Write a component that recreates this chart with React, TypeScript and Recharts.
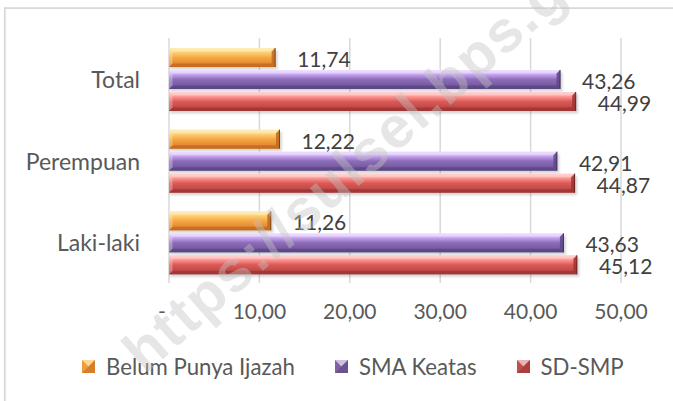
import React from 'react';
import { BarChart, Bar, XAxis, YAxis, CartesianGrid, Legend, LabelList } from 'recharts';

const categories = ['Total', 'Perempuan', 'Laki-laki'];
const belumPunyaIjazah = [11.74, 12.22, 11.26];
const smaKeatas = [43.26, 42.91, 43.63];
const sdSmp = [44.99, 44.87, 45.12];
const xTicks = [0, 10, 20, 30, 40, 50];
const xTickLabels = ['-', '10,00', '20,00', '30,00', '40,00', '50,00'];
const seriesNames = ['Belum Punya Ijazah', 'SMA Keatas', 'SD-SMP'];
const seriesKeys = ['belum', 'sma', 'sd'];

const data = categories.map((name, i) => ({
  name,
  belum: belumPunyaIjazah[i],
  sma: smaKeatas[i],
  sd: sdSmp[i],
}));

const FONT = 'Lato, "Noto Sans", sans-serif';

type Pal = { id: string; stops: [number, string][]; light: string; dark: string; side: string; edge: string; legend: string };
const palettes: Record<string, Pal> = {
  belum: {
    id: 'gOrange',
    stops: [[0, '#fde9a6'], [0.22, '#fcd27a'], [0.5, '#f7a743'], [1, '#d8782a']],
    light: '#fff1c2',
    dark: '#b8621c',
    side: '#c06a20',
    edge: '#7a4410',
    legend: '#f29b3c',
  },
  sma: {
    id: 'gPurple',
    stops: [[0, '#ecd9ff'], [0.22, '#c9a8f2'], [0.5, '#8c6cb9'], [1, '#6a5092']],
    light: '#f3e6ff',
    dark: '#54407a',
    side: '#5e4888',
    edge: '#3e2d5c',
    legend: '#8064a2',
  },
  sd: {
    id: 'gRed',
    stops: [[0, '#ffc6c4'], [0.22, '#ff9a96'], [0.5, '#dc5a57'], [1, '#b03e3c']],
    light: '#ffdcdc',
    dark: '#923030',
    side: '#9c3432',
    edge: '#6a1e1e',
    legend: '#c0504d',
  },
};

const makeShape = (key: string) => (props: any) => {
  const { x, y, width, height } = props;
  if (width == null || width <= 0) return null;
  const p = palettes[key];
  const b = Math.min(3.5, width / 2, height / 2);
  const r = x + width;
  const bt = y + height;
  return (
    <g>
      <rect x={x + 1} y={y + 2.5} width={width + 1.5} height={height} fill="rgba(0,0,0,0.16)" filter="url(#shadowBlur)" />
      <rect x={x} y={y} width={width} height={height} fill={`url(#${p.id})`} />
      <polygon points={`${x},${y} ${r},${y} ${r - b},${y + b} ${x + b},${y + b}`} fill={p.light} opacity={0.55} />
      <polygon points={`${x},${bt} ${r},${bt} ${r - b},${bt - b} ${x + b},${bt - b}`} fill={p.dark} opacity={0.6} />
      <polygon points={`${x},${y} ${x + b},${y + b} ${x + b},${bt - b} ${x},${bt}`} fill={p.light} opacity={0.35} />
      <polygon points={`${r},${y} ${r},${bt} ${r - b},${bt - b} ${r - b},${y + b}`} fill={p.side} opacity={0.85} />
      <line x1={r} y1={y} x2={r} y2={bt} stroke={p.edge} strokeWidth={1} />
    </g>
  );
};

const fmt = (v: number) => v.toFixed(2).replace('.', ',');

const ValueLabel = (props: any) => {
  const { x, y, width, height, value } = props;
  return (
    <text
      x={x + width + 22}
      y={y + height / 2 + 1}
      fill="#404040"
      fontFamily={FONT}
      fontSize={21}
      dominantBaseline="central"
      textAnchor="start"
    >
      {fmt(value)}
    </text>
  );
};

const XTick = (props: any) => {
  const { x, y, payload } = props;
  const label = xTickLabels[xTicks.indexOf(payload.value)] ?? String(payload.value);
  const dx = payload.value === 0 ? -7 : 0;
  return (
    <text x={x + dx} y={y + 19} fill="#595959" fontFamily={FONT} fontSize={21} textAnchor="middle" dominantBaseline="central">
      {label}
    </text>
  );
};

const YTick = (props: any) => {
  const { x, y, payload } = props;
  return (
    <text x={x - 21} y={y} fill="#595959" fontFamily={FONT} fontSize={23} textAnchor="end" dominantBaseline="central">
      {payload.value}
    </text>
  );
};

const LegendIcon = ({ k }: { k: string }) => {
  const p = palettes[k];
  return (
    <svg width={13} height={13} style={{ display: 'block' }}>
      <rect x={0} y={0} width={13} height={13} fill={p.legend} />
      <polygon points="0,0 13,0 6.5,6.5" fill={p.light} opacity={0.7} />
      <polygon points="0,13 13,13 6.5,6.5" fill={p.dark} opacity={0.5} />
      <polygon points="13,0 13,13 6.5,6.5" fill={p.side} opacity={0.6} />
    </svg>
  );
};

const LegendContent = () => (
  <div style={{ display: 'flex', justifyContent: 'flex-start', alignItems: 'center', height: 30, fontFamily: FONT, fontSize: 22.2, color: '#595959', paddingLeft: 82 }}>
    {seriesKeys.map((k, i) => (
      <div key={k} style={{ display: 'flex', alignItems: 'center', marginRight: i < 2 ? 40 : 0 }}>
        <LegendIcon k={k} />
        <span style={{ marginLeft: 11, whiteSpace: 'nowrap' }}>{seriesNames[i]}</span>
      </div>
    ))}
  </div>
);

export default function App() {
  return (
    <div style={{ position: 'absolute', left: 0, top: 0, width: 673, height: 401, background: '#ffffff', overflow: 'hidden' }}>
      <BarChart
        width={673}
        height={401}
        data={data}
        layout="vertical"
        margin={{ top: 38, right: 52, left: 0, bottom: 20 }}
        barCategoryGap={10}
        barGap={3}
      >
        <defs>
          {Object.values(palettes).map((p) => (
            <linearGradient key={p.id} id={p.id} x1="0" y1="0" x2="0" y2="1">
              {p.stops.map(([o, c]) => (
                <stop key={o} offset={o} stopColor={c} />
              ))}
            </linearGradient>
          ))}
          <filter id="shadowBlur" x="-5%" y="-50%" width="110%" height="200%">
            <feGaussianBlur stdDeviation="1.2" />
          </filter>
        </defs>
        <CartesianGrid horizontal={false} vertical stroke="#d9d9d9" strokeWidth={1.5} />
        <XAxis
          type="number"
          domain={[0, 50]}
          ticks={xTicks}
          axisLine={false}
          tickLine={false}
          height={68}
          tick={<XTick />}
          interval={0}
        />
        <YAxis type="category" dataKey="name" width={169} axisLine={false} tickLine={false} tick={<YTick />} interval={0} />
        <Legend verticalAlign="bottom" content={<LegendContent />} wrapperStyle={{ height: 30 }} />
        {seriesKeys.map((k, i) => (
          <Bar key={k} dataKey={k} name={seriesNames[i]} fill={palettes[k].legend} shape={makeShape(k)} isAnimationActive={false}>
            <LabelList dataKey={k} content={<ValueLabel />} />
          </Bar>
        ))}
      </BarChart>
      <svg width={673} height={401} style={{ position: 'absolute', left: 0, top: 0, pointerEvents: 'none' }}>
        <line x1={4.8} y1={7.5} x2={4.8} y2={401} stroke="#d9d9d9" strokeWidth={1.8} />
        <line x1={4} y1={8.2} x2={673} y2={8.2} stroke="#d9d9d9" strokeWidth={1.8} />
        <text
          x={145}
          y={375}
          transform="rotate(-41.5 145 375)"
          fontFamily='"Liberation Sans", Arial, sans-serif'
          fontWeight="bold"
          fontSize={58}
          letterSpacing={2}
          fill="#c4c4c4"
          opacity={0.42}
        >
          https://sulsel.bps.go.id
        </text>
      </svg>
    </div>
  );
}
